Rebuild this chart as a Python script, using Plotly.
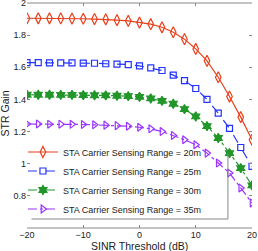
import plotly.graph_objects as go

sinr_db = [-20, -18, -16, -14, -12, -10, -8, -6, -4, -2, 0, 2, 4, 6, 8, 10, 12, 14, 16, 18, 20]

gain_20m = [1.905, 1.905, 1.905, 1.904, 1.903, 1.902, 1.900, 1.898, 1.893, 1.889, 1.878,
            1.868, 1.849, 1.818, 1.775, 1.714, 1.640, 1.538, 1.418, 1.290, 1.149]
gain_25m = [1.629, 1.629, 1.628, 1.628, 1.627, 1.626, 1.625, 1.622, 1.620, 1.617, 1.609,
            1.596, 1.580, 1.551, 1.517, 1.468, 1.400, 1.315, 1.220, 1.101, 0.983]
gain_30m = [1.429, 1.429, 1.429, 1.428, 1.428, 1.427, 1.426, 1.425, 1.423, 1.421, 1.416,
            1.406, 1.391, 1.373, 1.340, 1.294, 1.234, 1.160, 1.066, 0.973, 0.865]
gain_35m = [1.247, 1.247, 1.246, 1.246, 1.245, 1.244, 1.242, 1.240, 1.237, 1.233, 1.227,
            1.217, 1.200, 1.176, 1.149, 1.118, 1.066, 1.004, 0.942, 0.849, 0.756]

labels = ["STA Carrier Sensing Range = 20m", "STA Carrier Sensing Range = 25m",
          "STA Carrier Sensing Range = 30m", "STA Carrier Sensing Range = 35m"]

x_ticks = [-20, -10, 0, 10, 20]
y_ticks = [0.8, 1.0, 1.2, 1.4, 1.6, 1.8, 2.0]
y_ticklabels = ["0.8", "1", "1.2", "1.4", "1.6", "1.8", "2"]

x_title = "SINR Threshold (dB)"
y_title = "STR Gain"

FONT = "Liberation Sans"

styles = [
    dict(color="#E8401C", dash="solid", symbol="diamond-tall-open", size=8),
    dict(color="#2233FF", dash="dash", symbol="square-open", size=6),
    dict(color="#22962A", dash="dashdot", symbol="hexagram", size=7),
    dict(color="#9933FF", dash="dashdot", symbol="triangle-right-open", size=7),
]

fig = go.Figure()
for ys, lab, st in zip([gain_20m, gain_25m, gain_30m, gain_35m], labels, styles):
    fig.add_trace(go.Scatter(
        x=sinr_db, y=ys, name=lab, mode="lines+markers",
        line=dict(color=st["color"], width=1.2, dash=st["dash"]),
        marker=dict(symbol=st["symbol"], size=st["size"], color=st["color"],
                    line=dict(color=st["color"], width=1.2)),
    ))

axis_common = dict(ticks="inside", ticklen=3, tickcolor="#888", showgrid=False,
                   zeroline=False, mirror="ticks", automargin=False, showline=False,
                   ticklabeloverflow="allow",
                   tickfont=dict(family=FONT, size=9, color="#222"))

fig.update_layout(
    width=258, height=251,
    margin=dict(l=27, r=6, t=3, b=23, autoexpand=False),
    paper_bgcolor="white", plot_bgcolor="white",
    font=dict(family=FONT, size=9, color="#222"),
    xaxis=dict(range=[-20, 20], tickvals=x_ticks, **axis_common),
    yaxis=dict(range=[0.6, 2.0], tickvals=y_ticks, ticktext=y_ticklabels, **axis_common),
    legend=dict(x=-0.018, y=0.02, xanchor="left", yanchor="bottom",
                bgcolor="rgba(255,255,255,0)", borderwidth=0,
                font=dict(family=FONT, size=9, color="#222"), tracegroupgap=0, itemwidth=30),
    showlegend=True,
    annotations=[
        dict(text=x_title, xref="paper", yref="paper", x=0.5, y=-0.078, xanchor="center",
             yanchor="middle", showarrow=False, font=dict(family=FONT, size=10.5, color="#222")),
        dict(text=y_title, xref="paper", yref="paper", x=-0.097, y=0.51, xanchor="center",
             yanchor="middle", textangle=-90, showarrow=False,
             font=dict(family=FONT, size=10.5, color="#222")),
    ],
    shapes=[
        dict(type="line", xref="paper", yref="paper", x0=0, x1=1, y0=1, y1=1,
             line=dict(color="#888", width=1)),
        dict(type="line", xref="paper", yref="paper", x0=0, x1=1, y0=0, y1=0,
             line=dict(color="#888", width=1)),
        dict(type="line", xref="paper", yref="paper", x0=0.893, x1=0.893, y0=0.04, y1=0.33,
             line=dict(color="#888", width=1)),
        dict(type="line", xref="paper", yref="paper", x0=0.02, x1=0.893, y0=0.04, y1=0.04,
             line=dict(color="#888", width=1)),
    ],
)

fig.write_html("out.html", config={"displayModeBar": False},
               post_script="document.body.style.margin='0';document.body.style.overflow='hidden';")
